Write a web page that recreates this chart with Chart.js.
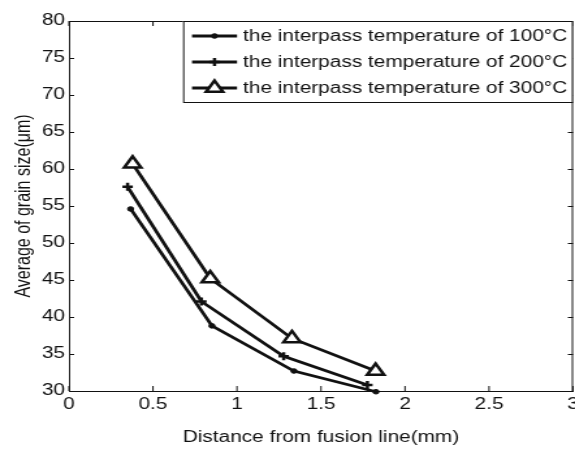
<!DOCTYPE html>
<html>
<head>
<meta charset="utf-8">
<script src="https://cdn.jsdelivr.net/npm/chart.js@4"></script>
<style>
  html, body { margin: 0; padding: 0; background: #fff; overflow: hidden; }
  /* the source figure is stretched sideways, so draw narrow and widen */
  #wrap { width: 442px; height: 449px; transform: scaleX(1.3009); transform-origin: 0 0; }
  #grain-chart { display: block; }
</style>
</head>
<body>
<div id="wrap"><canvas id="grain-chart"></canvas></div>
<script>
// data
const labels = [
  'the interpass temperature of 100°C',
  'the interpass temperature of 200°C',
  'the interpass temperature of 300°C'
];
const x100 = [0.367, 0.851, 1.339, 1.827];
const y100 = [54.6, 38.8, 32.7, 29.9];
const x200 = [0.349, 0.788, 1.278, 1.776];
const y200 = [57.6, 42.1, 34.7, 30.8];
const x300 = [0.379, 0.841, 1.327, 1.825];
const y300 = [60.7, 45.2, 37.1, 32.7];

const xTicks = [0, 0.5, 1, 1.5, 2, 2.5, 3];
const yTicks = [30, 35, 40, 45, 50, 55, 60, 65, 70, 75, 80];

const FONT = '"Liberation Sans", Arial, Helvetica, sans-serif';
const INK = '#111';

function toPoints(xs, ys) {
  return xs.map((x, i) => ({ x, y: ys[i] }));
}

const series = [
  { pts: toPoints(x100, y100), style: 'circle', radius: 2.3, bw: 1, bg: INK },
  { pts: toPoints(x200, y200), style: 'cross', radius: 4, bw: 2.5, bg: INK },
  { pts: toPoints(x300, y300), style: 'triangle', radius: 7.5, bw: 2.5, bg: '#fff' }
];

// inward ticks + top/right frame, like the matlab box
const frameTicks = {
  id: 'frameTicks',
  afterDraw(chart) {
    const { ctx, chartArea: a, scales } = chart;
    ctx.save();
    ctx.strokeStyle = INK;
    ctx.lineWidth = 1;
    ctx.beginPath();
    ctx.rect(a.left + 0.5, a.top + 0.5, a.right - a.left - 1, a.bottom - a.top);
    xTicks.forEach(v => {
      const px = scales.x.getPixelForValue(v);
      ctx.moveTo(px, a.bottom); ctx.lineTo(px, a.bottom - 5);
      ctx.moveTo(px, a.top); ctx.lineTo(px, a.top + 5);
    });
    yTicks.forEach(v => {
      const py = Math.round(scales.y.getPixelForValue(v)) + 0.5;
      ctx.moveTo(a.left, py); ctx.lineTo(a.left + 4, py);
      ctx.moveTo(a.right, py); ctx.lineTo(a.right - 4, py);
    });
    ctx.stroke();
    ctx.restore();
  }
};

// legend box drawn top right, line with marker in the middle
const boxLegend = {
  id: 'boxLegend',
  afterDraw(chart) {
    const { ctx, chartArea: a } = chart;
    const left = 140.7, top = a.top, right = a.right, bottom = 102;
    ctx.save();
    ctx.fillStyle = '#fff';
    ctx.fillRect(left, top, right - left, bottom - top);
    ctx.strokeStyle = INK;
    ctx.lineWidth = 1;
    ctx.strokeRect(left + 0.5, top + 0.5, right - left - 1, bottom - top);

    const rows = [36, 62, 88];
    chart.data.datasets.forEach((ds, i) => {
      const y = rows[i];
      ctx.strokeStyle = INK;
      ctx.lineWidth = 3;
      ctx.beginPath();
      ctx.moveTo(147.6, y);
      ctx.lineTo(182.2, y);
      ctx.stroke();
      ctx.fillStyle = ds.pointBackgroundColor;
      ctx.strokeStyle = INK;
      ctx.lineWidth = ds.pointBorderWidth;
      Chart.helpers.drawPoint(ctx, { pointStyle: ds.pointStyle, radius: ds.pointRadius, borderWidth: ds.pointBorderWidth, rotation: 0 }, 164.9, y);
      ctx.fillStyle = INK;
      ctx.font = '16px ' + FONT;
      ctx.textBaseline = 'middle';
      ctx.textAlign = 'left';
      ctx.fillText(ds.label, 186.8, y + 1);
    });
    ctx.restore();
  }
};

const ctx = document.getElementById('grain-chart').getContext('2d');

new Chart(ctx, {
  type: 'line',
  data: {
    datasets: series.map((s, i) => ({
      label: labels[i],
      data: s.pts,
      borderColor: INK,
      borderWidth: 2.8,
      tension: 0,
      clip: false,
      pointStyle: s.style,
      pointRadius: s.radius,
      pointBorderWidth: s.bw,
      pointBorderColor: INK,
      pointBackgroundColor: s.bg
    }))
  },
  options: {
    responsive: true,
    maintainAspectRatio: false,
    animation: false,
    layout: { autoPadding: false, padding: { top: 21, right: 1.5, left: 0, bottom: 0 } },
    scales: {
      x: {
        type: 'linear',
        min: 0,
        max: 3,
        afterBuildTicks: s => { s.ticks = xTicks.map(v => ({ value: v })); },
        afterFit: s => { s.height = 58; s.paddingLeft = 0; s.paddingRight = 0; },
        grid: { display: false, drawTicks: false },
        border: { display: true, color: INK },
        ticks: {
          color: INK,
          padding: 4,
          maxRotation: 0,
          font: { family: FONT, size: 16 },
          callback: v => String(v)
        },
        title: {
          display: true,
          text: 'Distance from fusion line(mm)',
          color: INK,
          font: { family: FONT, size: 16 },
          padding: { top: 0, bottom: 2 }
        }
      },
      y: {
        min: 30,
        max: 80,
        afterBuildTicks: s => { s.ticks = yTicks.map(v => ({ value: v })); },
        afterFit: s => { s.width = 53; s.paddingTop = 0; s.paddingBottom = 0; },
        grid: { display: false, drawTicks: false },
        border: { display: true, color: INK },
        ticks: {
          color: INK,
          padding: 3,
          font: { family: FONT, size: 16 }
        },
        title: {
          display: true,
          text: 'Average of grain size(μm)',
          color: INK,
          font: { family: FONT, size: 16 },
          padding: { top: 8.5, bottom: 0 }
        }
      }
    },
    plugins: {
      legend: { display: false },
      tooltip: { enabled: false }
    }
  },
  plugins: [frameTicks, boxLegend]
});
</script>
</body>
</html>
